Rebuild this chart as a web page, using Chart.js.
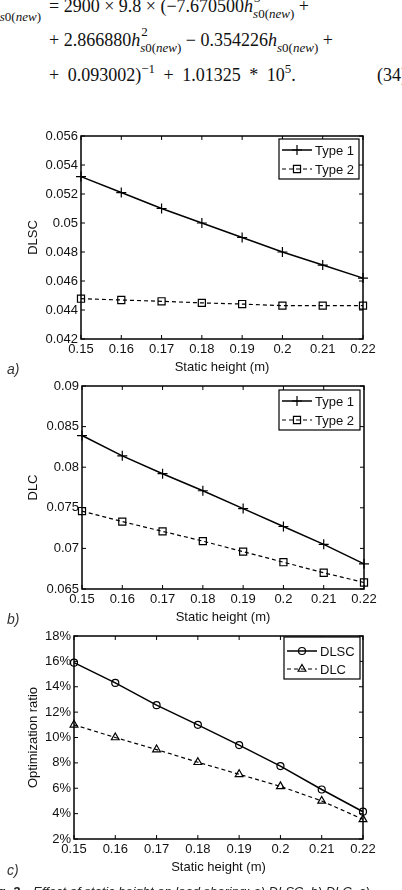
<!DOCTYPE html>
<html>
<head>
<meta charset="utf-8">
<script src="https://cdn.jsdelivr.net/npm/chart.js@4.4.0/dist/chart.umd.min.js"></script>
<style>
  html, body { margin: 0; padding: 0; background: #fff; }
  body { width: 402px; height: 890px; position: relative; overflow: hidden; font-family: "Liberation Sans", Arial, sans-serif; }
  .eq { position: absolute; font-family: "Liberation Serif", "Times New Roman", serif; font-size: 18px; line-height: 18px; color: #111; white-space: nowrap; }
  .hs { position: relative; display: inline-block; font-size: 13px; line-height: 13px; }
  .hs .sb { position: relative; top: 6px; }
  .hs .sp { position: absolute; left: 1px; top: -10px; }
  .up { position: relative; top: -8px; font-size: 13px; }
  .tag { position: absolute; left: 7px; font: italic 14px "Liberation Sans", Arial, sans-serif; color: #333; }
  .cap { position: absolute; top: 884px; font: italic 13px "Liberation Sans", Arial, sans-serif; line-height: 15px; color: #222; white-space: nowrap; }
  canvas { position: absolute; left: 0; }
</style>
</head>
<body>

<!-- equation (34), top part is cut off like the source page -->
<div class="eq" style="right:361px; top:0px;"><i>P</i><span class="hs"><span class="sb"><i>s</i>0(<i>new</i>)</span></span></div>
<div class="eq" style="left:49px; top:-3px;">= 2900 × 9.8 × (−7.670500<i>h</i><span class="hs"><span class="sp">3</span><span class="sb"><i>s</i>0(<i>new</i>)</span></span> +</div>
<div class="eq" style="left:49px; top:31px;">+ 2.866880<i>h</i><span class="hs"><span class="sp">2</span><span class="sb"><i>s</i>0(<i>new</i>)</span></span> − 0.354226<i>h</i><span class="hs"><span class="sb"><i>s</i>0(<i>new</i>)</span></span> +</div>
<div class="eq" style="left:49px; top:66px; word-spacing:4px;">+ 0.093002)<span class="up">−1</span> + 1.01325 * 10<span class="up">5</span>.</div>
<div class="eq" style="left:377px; top:66px;">(34)</div>

<canvas id="chartA" width="402" height="262" style="top:120px"></canvas>
<canvas id="chartB" width="402" height="262" style="top:370px"></canvas>
<canvas id="chartC" width="402" height="262" style="top:620px"></canvas>

<div class="tag" style="top:361px">a)</div>
<div class="tag" style="top:611px">b)</div>
<div class="tag" style="top:862px">c)</div>

<div class="cap" style="right:382px; font-weight:bold;">Fig. 2</div>
<div class="cap" style="left:33px;">Effect of static height on load sharing: a) DLSC, b) DLC, c)</div>

<script>
// static heights (m)
const heights = [0.15, 0.16, 0.17, 0.18, 0.19, 0.2, 0.21, 0.22]

// a) DLSC
const dlscType1 = [0.0532, 0.0521, 0.0510, 0.0500, 0.0490, 0.0480, 0.0471, 0.0462]
const dlscType2 = [0.04478, 0.04469, 0.0446, 0.04449, 0.04441, 0.0443, 0.0443, 0.0443]
const dlscTicks = [0.042, 0.044, 0.046, 0.048, 0.05, 0.052, 0.054, 0.056]

// b) DLC
const dlcType1 = [0.0839, 0.0814, 0.0792, 0.0771, 0.0749, 0.0727, 0.0705, 0.0681]
const dlcType2 = [0.0746, 0.0733, 0.0721, 0.0709, 0.0696, 0.0683, 0.0670, 0.0658]
const dlcTicks = [0.065, 0.07, 0.075, 0.08, 0.085, 0.09]

// c) optimization ratio (%)
const ratioDLSC = [15.9, 14.3, 12.55, 11.0, 9.4, 7.75, 5.9, 4.15]
const ratioDLC = [11.0, 10.0, 9.05, 8.05, 7.1, 6.15, 5.0, 3.55]
const ratioTicks = [2, 4, 6, 8, 10, 12, 14, 16, 18]

Chart.defaults.font.family = '"Liberation Sans", Arial, sans-serif'
Chart.defaults.font.size = 13
Chart.defaults.color = '#111'

const trim = (v, d) => String(+v.toFixed(d))
const toPoints = (arr) => heights.map((h, i) => ({ x: h, y: arr[i] }))

function drawMarker(ctx, style, x, y, r) {
  ctx.beginPath()
  if (style === 'cross') {
    ctx.moveTo(x - r, y); ctx.lineTo(x + r, y)
    ctx.moveTo(x, y - r); ctx.lineTo(x, y + r)
  } else if (style === 'rect') {
    let s = r * Math.SQRT1_2
    ctx.rect(x - s, y - s, 2 * s, 2 * s)
  } else if (style === 'circle') {
    ctx.arc(x, y, r, 0, Math.PI * 2)
  } else if (style === 'triangle') {
    let a = 0
    ctx.moveTo(x + Math.sin(a) * r, y - Math.cos(a) * r)
    a += Math.PI * 2 / 3
    ctx.lineTo(x + Math.sin(a) * r, y - Math.cos(a) * r)
    a += Math.PI * 2 / 3
    ctx.lineTo(x + Math.sin(a) * r, y - Math.cos(a) * r)
    ctx.closePath()
  }
  ctx.stroke()
}

// matlab style box with inward ticks on all sides
const framePlugin = {
  id: 'frame',
  beforeDatasetsDraw(chart) {
    const { ctx, chartArea: a, scales: { x, y } } = chart
    ctx.save()
    ctx.strokeStyle = '#000'
    ctx.lineWidth = 1.5
    ctx.strokeRect(a.left, a.top, a.right - a.left, a.bottom - a.top)
    ctx.lineWidth = 1
    ctx.beginPath()
    x.ticks.forEach(t => {
      let px = x.getPixelForValue(t.value)
      ctx.moveTo(px, a.bottom); ctx.lineTo(px, a.bottom - 4)
      ctx.moveTo(px, a.top); ctx.lineTo(px, a.top + 4)
    })
    y.ticks.forEach(t => {
      let py = y.getPixelForValue(t.value)
      ctx.moveTo(a.left, py); ctx.lineTo(a.left + 4, py)
      ctx.moveTo(a.right, py); ctx.lineTo(a.right - 4, py)
    })
    ctx.stroke()
    ctx.restore()
  }
}

const boxLegend = {
  id: 'boxLegend',
  afterDraw(chart, args, opts) {
    const { ctx, chartArea: a } = chart
    let bx = a.right - opts.right - opts.width
    let by = a.top + opts.top
    ctx.save()
    ctx.fillStyle = '#fff'
    ctx.fillRect(bx, by, opts.width, opts.height)
    ctx.strokeStyle = '#000'
    ctx.lineWidth = 1.2
    ctx.strokeRect(bx, by, opts.width, opts.height)
    chart.data.datasets.forEach((ds, i) => {
      let yy = by + opts.rows[i]
      ctx.lineWidth = ds.borderWidth
      ctx.setLineDash(ds.borderDash || [])
      ctx.beginPath()
      ctx.moveTo(bx + 3, yy); ctx.lineTo(bx + 33, yy)
      ctx.stroke()
      ctx.setLineDash([])
      ctx.lineWidth = ds.pointBorderWidth
      drawMarker(ctx, ds.pointStyle, bx + 18, yy, ds.pointRadius)
      ctx.fillStyle = '#111'
      ctx.font = '13px "Liberation Sans", Arial, sans-serif'
      ctx.textBaseline = 'middle'
      ctx.fillText(ds.label, bx + 36, yy + 1)
    })
    ctx.restore()
  }
}

function makeChart(id, cfg) {
  const solid = {
    label: cfg.labels[0], data: toPoints(cfg.series[0]),
    borderColor: '#000', borderWidth: 1.5, pointStyle: cfg.markers[0], pointRadius: cfg.radius[0],
    pointBorderWidth: 1.2, pointBorderColor: '#000', pointBackgroundColor: 'rgba(0,0,0,0)',
    fill: false, tension: 0, clip: false
  }
  const dashed = {
    label: cfg.labels[1], data: toPoints(cfg.series[1]),
    borderColor: '#000', borderWidth: 1.2, borderDash: [4, 3], pointStyle: cfg.markers[1], pointRadius: cfg.radius[1],
    pointBorderWidth: 1.2, pointBorderColor: '#000', pointBackgroundColor: 'rgba(0,0,0,0)',
    fill: false, tension: 0, clip: false
  }
  return new Chart(document.getElementById(id), {
    type: 'line',
    data: { datasets: [solid, dashed] },
    plugins: [framePlugin, boxLegend],
    options: {
      responsive: false,
      animation: false,
      devicePixelRatio: 1,
      layout: { padding: { top: 16, right: cfg.padRight, left: 0, bottom: 0 } },
      plugins: {
        legend: { display: false },
        tooltip: { enabled: false },
        boxLegend: cfg.legend
      },
      scales: {
        x: {
          type: 'linear', min: 0.15, max: 0.22,
          afterBuildTicks: s => { s.ticks = heights.map(v => ({ value: v })) },
          afterFit: s => { s.height = 43 },
          ticks: { callback: v => trim(v, 2), padding: 3, maxRotation: 0, autoSkip: false },
          grid: { display: false, drawTicks: false },
          border: { display: false },
          title: { display: true, text: 'Static height (m)', padding: { top: 0, bottom: 7 } }
        },
        y: {
          type: 'linear', min: cfg.yTicks[0], max: cfg.yTicks[cfg.yTicks.length - 1],
          afterBuildTicks: s => { s.ticks = cfg.yTicks.map(v => ({ value: v })) },
          afterFit: s => { s.width = cfg.left },
          ticks: { callback: cfg.fmt, padding: 3, autoSkip: false },
          grid: { display: false, drawTicks: false },
          border: { display: false },
          title: { display: true, text: cfg.yTitle, padding: { top: 26, bottom: 0 } }
        }
      }
    }
  })
}

makeChart('chartA', {
  series: [dlscType1, dlscType2], labels: ['Type 1', 'Type 2'],
  markers: ['cross', 'rect'], radius: [5, 5],
  yTicks: dlscTicks, fmt: v => trim(v, 3), yTitle: 'DLSC',
  left: 81, padRight: 39,
  legend: { width: 80, height: 40, right: 4, top: 3, rows: [11, 30] }
})

makeChart('chartB', {
  series: [dlcType1, dlcType2], labels: ['Type 1', 'Type 2'],
  markers: ['cross', 'rect'], radius: [5, 5],
  yTicks: dlcTicks, fmt: v => trim(v, 3), yTitle: 'DLC',
  left: 82, padRight: 38,
  legend: { width: 81, height: 40, right: 4, top: 4, rows: [11, 30] }
})

makeChart('chartC', {
  series: [ratioDLSC, ratioDLC], labels: ['DLSC', 'DLC'],
  markers: ['circle', 'triangle'], radius: [3.5, 4.5],
  yTicks: ratioTicks, fmt: v => v + '%', yTitle: 'Optimization ratio',
  left: 74, padRight: 39,
  legend: { width: 76, height: 42, right: 3, top: 1, rows: [14, 32] }
})
</script>
</body>
</html>
